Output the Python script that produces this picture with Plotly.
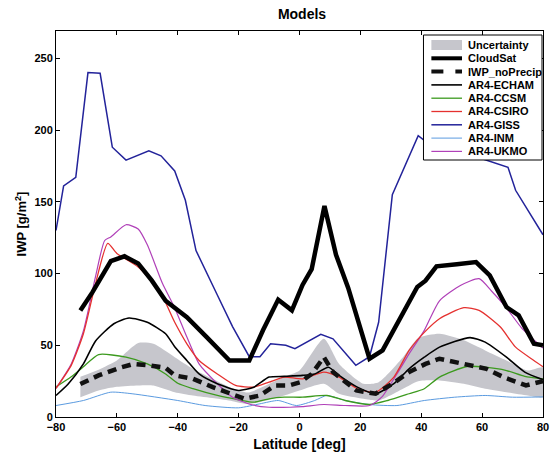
import plotly.graph_objects as go

# ---------------- data (latitude in deg, IWP in g/m^2) ----------------
cloudsat_lat = [-72, -68, -62, -57.5, -53, -48.5, -44, -41, -37, -30.5, -23, -16.5, -12, -7,
                -2.5, 1, 4, 8.2, 12, 16, 20, 23, 27.3, 33.8, 38.7, 41.4, 45, 51.7, 58, 62.5,
                68, 72, 77, 80]
cloudsat_iwp = [74.3, 87, 108.7, 112, 107, 95, 81, 76, 69.6, 55.7, 39.4, 39.4, 60.4, 81.8,
                74.3, 92, 103, 147, 113, 90, 62, 40.6, 46.4, 72, 90.6, 95, 105, 106.4, 108,
                98.7, 76.6, 70.8, 51, 50]

noprecip_lat = [-72, -66, -59, -54.5, -49.5, -44, -41, -35, -28.5, -22, -18, -13, -8, -3.5,
                0.3, 4, 8, 11, 18.7, 25, 30.6, 36, 41.4, 46, 54, 61.4, 67, 74.4, 80]
noprecip_iwp = [23, 29, 34.3, 37, 36, 34.3, 29, 26.6, 20.8, 15.7, 12.7, 15, 22, 22, 24.3, 30,
                41.7, 31.3, 18.5, 16.2, 23.2, 31.3, 37, 40.6, 37, 33.6, 27.8, 22, 25]

unc_lat = [-72, -66, -60, -53, -48, -41, -35, -28, -22, -17, -12, -5, 0, 8, 13, 21, 26, 34,
           39, 46, 54, 61, 68, 75, 80]
unc_hi = [28, 33, 39.4, 51.5, 51, 41.7, 33.6, 26, 20, 17, 21, 28, 32.4, 54.5, 37, 23.2,
          24.3, 41.7, 55, 58, 53.4, 46.4, 39.4, 32.4, 34.5]
unc_lo = [13.8, 18.5, 21, 22, 22, 17.3, 15, 13, 11, 9, 11, 15, 18.5, 23.2, 16.2, 12.7, 11.5,
          19.7, 25, 25.5, 23.2, 19.7, 17.3, 15, 13.8]

echam_lat = [-80, -76, -71, -67, -61, -56, -50, -44, -41, -37, -33, -27, -20, -15, -10, -5,
             1, 5, 9.5, 13, 19, 25, 31, 36, 41, 46, 56, 61, 68, 74, 80]
echam_iwp = [15, 23, 37, 53, 65, 69, 66, 58, 49, 39.4, 30, 23.2, 18.5, 20.8, 27.8, 28.3,
             29, 30, 34.7, 29, 20.8, 16.2, 23.2, 33.6, 41.7, 48.7, 55.3, 52.2, 41.7, 31.3, 26]

ccsm_lat = [-80, -75, -71, -66, -57, -50, -44, -40, -35, -27, -20, -15, -10, -5, 1, 9, 15,
            23, 29, 36, 41, 46, 55, 61, 68, 74, 80]
ccsm_iwp = [21, 28, 35, 43.5, 41.7, 37, 30, 23.5, 19.7, 15, 12, 10.3, 12.7, 13.8, 13.8, 15,
            11.5, 8.7, 11.5, 16.2, 19.7, 27.8, 35.2, 34.7, 32.4, 28.3, 26.5]

csiro_lat = [-80, -75, -71, -67, -63, -60, -53, -46, -41, -37, -33, -27, -21, -15, -10, -5,
             1, 8, 13, 19, 25, 31, 36, 41, 46, 54, 59, 66, 71, 77, 80]
csiro_iwp = [20, 36, 58, 93, 121, 114, 104.5, 88, 66, 51, 39.4, 30, 22, 20.8, 24.3, 27.8,
             26.6, 31.3, 27.8, 19.7, 17.3, 27.8, 46.4, 59, 68.5, 76.2, 74.3, 62.7, 48.7,
             39.4, 35]

giss_lat = [-80, -77.5, -73.5, -69.5, -65.5, -61.5, -57, -49.5, -45.5, -41, -37.5, -34, -27,
            -22, -16.5, -13, -9.5, -4.5, -1.5, 7, 11, 18.5, 23, 26, 30.5, 39, 41.5, 50, 60,
            68.5, 71, 75, 80]
giss_iwp = [130, 161, 167, 240, 239.5, 188, 179, 185.5, 182, 171.5, 151, 116, 85, 63, 42, 42,
            51, 50, 47.6, 57.6, 54.5, 36, 42, 66, 155, 196, 192, 185, 180, 174, 158, 144, 127]

inm_lat = [-80, -71, -62, -55, -40, -31, -20, -13, -7, -1, 5, 9, 15, 23, 32, 41, 51, 61, 70, 80]
inm_iwp = [8, 11.5, 17.3, 16.2, 11.5, 8, 6.4, 9.2, 11.5, 8, 11.5, 15, 11.5, 8.7, 8, 11.5,
           13.8, 15, 13.8, 14]

ukmo_lat = [-80, -75, -71, -67, -64, -62, -57, -53, -50, -45, -41, -37, -33, -27, -22, -16,
            -10, -3, 1, 8, 15, 23, 27, 32, 36, 41, 46, 53, 59, 63, 68, 73, 80]
ukmo_iwp = [20, 37, 60, 98, 123, 125.5, 134, 131, 120, 93, 76, 55.7, 37, 23.2, 13.8, 8.7,
            6.8, 6.8, 7.2, 8.7, 8, 8, 13.8, 30, 44, 60.4, 81, 91.8, 96.4, 88, 76, 62, 48]

x_ticks = [-80, -60, -40, -20, 0, 20, 40, 60, 80]
y_ticks = [0, 50, 100, 150, 200, 250]

# ---------------- styles ----------------
BAND = "#c6c6cc"
styles = {
    "CloudSat": dict(color="black", width=4.5),
    "IWP_noPrecip": dict(color="#111111", width=4.5, dash="9px,6px"),
    "AR4-ECHAM": dict(color="black", width=1.6),
    "AR4-CCSM": dict(color="#3c9a1e", width=1.3),
    "AR4-CSIRO": dict(color="#e5312f", width=1.3),
    "AR4-GISS": dict(color="#23239a", width=1.5),
    "AR4-INM": dict(color="#5b9be0", width=1.0),
    "AR4-UKMO": dict(color="#b040b8", width=1.2),
}

fig = go.Figure()

# uncertainty envelope as a closed polygon
fig.add_trace(go.Scatter(
    x=unc_lat + unc_lat[::-1], y=unc_hi + unc_lo[::-1],
    fill="toself", fillcolor=BAND, line=dict(width=0, shape="spline", smoothing=0.6),
    mode="lines", hoverinfo="skip", showlegend=False))

series = [
    ("AR4-INM", inm_lat, inm_iwp, "spline"),
    ("AR4-CCSM", ccsm_lat, ccsm_iwp, "spline"),
    ("AR4-UKMO", ukmo_lat, ukmo_iwp, "spline"),
    ("AR4-CSIRO", csiro_lat, csiro_iwp, "spline"),
    ("AR4-ECHAM", echam_lat, echam_iwp, "spline"),
    ("AR4-GISS", giss_lat, giss_iwp, "linear"),
    ("IWP_noPrecip", noprecip_lat, noprecip_iwp, "linear"),
    ("CloudSat", cloudsat_lat, cloudsat_iwp, "linear"),
]
for name, xs, ys, shp in series:
    ln = dict(styles[name])
    ln["shape"] = shp
    if shp == "spline":
        ln["smoothing"] = 0.6
    fig.add_trace(go.Scatter(x=xs, y=ys, mode="lines", name=name, line=ln,
                             showlegend=False))

# ---------------- plot geometry (pixels) ----------------
W, H = 552, 455
L, R, T, B = 56, 549, 31, 417


def px(xp):
    return (xp - L) / (R - L)


def py(yp):
    return (B - yp) / (B - T)


FONT = "Liberation Sans, Arial, Helvetica, sans-serif"

# ---------------- legend box drawn as paper-space shapes ----------------
shapes = [dict(type="rect", xref="paper", yref="paper", layer="above",
               x0=px(428), x1=px(548), y0=py(160), y1=py(35),
               fillcolor="white", line=dict(color="black", width=1))]
annotations = []
legend_order = ["Uncertainty", "CloudSat", "IWP_noPrecip", "AR4-ECHAM", "AR4-CCSM",
                "AR4-CSIRO", "AR4-GISS", "AR4-INM", "AR4-UKMO"]
row0, step = 45.0, 13.3
sx0, sx1, tx = 436, 467, 471
for i, name in enumerate(legend_order):
    yc = row0 + i * step
    if name == "Uncertainty":
        shapes.append(dict(type="rect", xref="paper", yref="paper", layer="above",
                           x0=px(sx0), x1=px(sx1), y0=py(yc + 5), y1=py(yc - 5),
                           fillcolor=BAND, line=dict(width=0)))
    else:
        st = styles[name]
        ldash = "solid"
        if "dash" in st:
            ldash = "dash"
        shapes.append(dict(type="line", xref="paper", yref="paper", layer="above",
                           x0=px(sx0), x1=px(sx1), y0=py(yc), y1=py(yc),
                           line=dict(color=st["color"], width=min(st["width"], 4),
                                     dash=ldash)))
    annotations.append(dict(text=name, xref="paper", yref="paper", x=px(tx), y=py(yc),
                            xanchor="left", yanchor="middle", showarrow=False,
                            font=dict(family=FONT, size=11, color="black", weight="bold")))

axis_common = dict(
    showline=True, linecolor="black", linewidth=1, mirror="allticks",
    ticks="inside", ticklen=4, tickcolor="black", tickwidth=1,
    showgrid=False, zeroline=False, ticklabeloverflow="allow",
    tickfont=dict(family=FONT, size=11, color="black", weight="bold"),
)

fig.update_layout(
    width=W, height=H,
    margin=dict(l=L, r=W - R, t=T, b=H - B, pad=0),
    paper_bgcolor="white", plot_bgcolor="white",
    showlegend=False,
    font=dict(family=FONT, color="black"),
    title=dict(text="Models", x=(302) / W, xanchor="center", xref="container",
               y=1 - 14 / H, yanchor="middle",
               font=dict(family=FONT, size=14, color="black", weight="bold")),
    xaxis=dict(range=[-80, 80], tickvals=x_ticks,
               title=dict(text="Latitude [deg]", standoff=6,
                          font=dict(family=FONT, size=14, color="black", weight="bold")),
               **axis_common),
    yaxis=dict(range=[0, 269], tickvals=y_ticks,
               title=dict(text="IWP [g/m<sup>2</sup>]", standoff=4,
                          font=dict(family=FONT, size=13, color="black", weight="bold")),
               **axis_common),
    shapes=shapes,
    annotations=annotations,
)

fig.write_html("out.html")
